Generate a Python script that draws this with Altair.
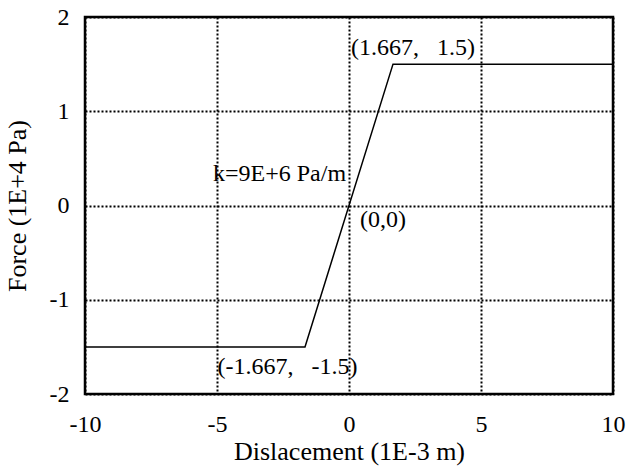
import altair as alt
import pandas as pd

# data
line_x = [-10, -1.667, 1.667, 10]
line_y = [-1.5, -1.5, 1.5, 1.5]

NB = "\u00a0"
ann_text = ["(1.667," + NB * 3 + "1.5)", "k=9E+6 Pa/m", "(0,0)", "(-1.667," + NB * 3 + "-1.5)"]
ann_x = [0.08, -5.15, 0.42, -4.98]
ann_y = [1.67, 0.33, -0.15, -1.71]

x_ticks = [-10, -5, 0, 5, 10]
y_ticks = [-2, -1, 0, 1, 2]

line_df = pd.DataFrame({"x": line_x, "y": line_y})
ann_df = pd.DataFrame({"x": ann_x, "y": ann_y, "t": ann_text})

FONT = "Liberation Serif"

xs = alt.Scale(domain=[-10, 10], nice=False)
ys = alt.Scale(domain=[-2, 2], nice=False)

xaxis = alt.Axis(values=x_ticks, title="Dislacement (1E-3 m)", grid=True,
                 gridColor="black", gridDash=[2, 2], gridWidth=2, gridOpacity=1,
                 ticks=False, domain=False, labelFont=FONT, labelFontSize=24,
                 labelColor="black", labelPadding=18, titleFont=FONT,
                 titleFontSize=26, titleFontWeight="normal", titleColor="black",
                 titlePadding=2, labelFlush=False, labelExpr="'' + datum.value")
yaxis = alt.Axis(values=y_ticks, title="Force (1E+4 Pa)", grid=True,
                 gridColor="black", gridDash=[2, 2], gridWidth=2, gridOpacity=1,
                 ticks=False, domain=False, labelFont=FONT, labelFontSize=24,
                 labelColor="black", labelPadding=16, titleFont=FONT,
                 titleFontSize=26, titleFontWeight="normal", titleColor="black",
                 titlePadding=19, labelFlush=False, labelExpr="'' + datum.value")

line = alt.Chart(line_df).mark_line(color="black", strokeWidth=1.5).encode(
    x=alt.X("x:Q", scale=xs, axis=xaxis),
    y=alt.Y("y:Q", scale=ys, axis=yaxis),
    order="x:Q",
)

text = alt.Chart(ann_df).mark_text(
    align="left", baseline="middle", font=FONT, fontSize=24, color="black"
).encode(
    x=alt.X("x:Q", scale=xs),
    y=alt.Y("y:Q", scale=ys),
    text="t:N",
)

chart = (line + text).properties(
    width=528, height=377,
    autosize=alt.AutoSizeParams(type="none"),
    padding={"left": 85, "top": 17, "right": 16, "bottom": 73},
    background="white",
).configure_view(stroke="black", strokeWidth=2.5)

chart.save("out.html", embed_options={"renderer": "svg", "actions": False})
